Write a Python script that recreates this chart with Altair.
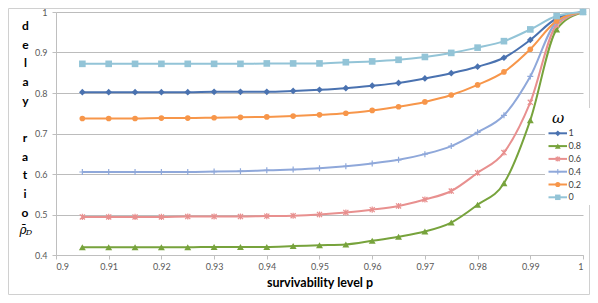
import altair as alt
import pandas as pd

# ---------------- data ----------------
p_values = [0.905, 0.91, 0.915, 0.92, 0.925, 0.93, 0.935, 0.94, 0.945, 0.95,
            0.955, 0.96, 0.965, 0.97, 0.975, 0.98, 0.985, 0.99, 0.995, 1.0]
omega_labels = ["1", "0.8", "0.6", "0.4", "0.2", "0"]

ratio_w1 = [0.802, 0.802, 0.802, 0.802, 0.802, 0.803, 0.803, 0.803, 0.805, 0.808,
            0.812, 0.818, 0.825, 0.836, 0.849, 0.865, 0.887, 0.931, 0.984, 1.0]
ratio_w08 = [0.419, 0.419, 0.419, 0.419, 0.419, 0.420, 0.420, 0.420, 0.422, 0.424,
             0.426, 0.435, 0.445, 0.458, 0.480, 0.524, 0.577, 0.733, 0.957, 1.0]
ratio_w06 = [0.494, 0.494, 0.494, 0.494, 0.495, 0.495, 0.495, 0.496, 0.497, 0.500,
             0.505, 0.512, 0.521, 0.537, 0.558, 0.603, 0.653, 0.777, 0.968, 1.0]
ratio_w04 = [0.605, 0.605, 0.605, 0.605, 0.605, 0.606, 0.607, 0.609, 0.611, 0.614,
             0.619, 0.626, 0.635, 0.649, 0.669, 0.703, 0.745, 0.841, 0.975, 1.0]
ratio_w02 = [0.737, 0.737, 0.737, 0.738, 0.738, 0.739, 0.740, 0.741, 0.743, 0.746,
             0.750, 0.757, 0.766, 0.778, 0.795, 0.820, 0.852, 0.908, 0.978, 1.0]
ratio_w0 = [0.872, 0.872, 0.872, 0.872, 0.872, 0.872, 0.872, 0.873, 0.873, 0.873,
            0.876, 0.878, 0.882, 0.889, 0.899, 0.912, 0.928, 0.957, 0.990, 1.0]

x_ticks = [0.9, 0.91, 0.92, 0.93, 0.94, 0.95, 0.96, 0.97, 0.98, 0.99, 1.0]
y_ticks = [0.4, 0.5, 0.6, 0.7, 0.8, 0.9, 1.0]

series = [ratio_w1, ratio_w08, ratio_w06, ratio_w04, ratio_w02, ratio_w0]
rows = []
for lab, vals in zip(omega_labels, series):
    for p, v in zip(p_values, vals):
        rows.append({"p": p, "ratio": v, "w": lab})
df = pd.DataFrame(rows)
legend_df = pd.DataFrame({"w": omega_labels})

# ---------------- styles ----------------
colors = ["#4A72B0", "#77A33C", "#E8908F", "#8FA8DA", "#F7964A", "#93C4D7"]
FONT = "Lato"

STAR = "M-1,-1L1,1M-1,1L1,-1M0,-1.2V1.2"
PLUS = "M-1,0H1M0,-1V1"
marker_specs = {
    "1": dict(shape="diamond", filled=True, size=45),
    "0.8": dict(shape="triangle-up", filled=True, size=48),
    "0.6": dict(shape=STAR, filled=False, size=26, strokeWidth=1.2),
    "0.4": dict(shape=PLUS, filled=False, size=36, strokeWidth=1.2),
    "0.2": dict(shape="circle", filled=True, size=32),
    "0": dict(shape="square", filled=True, size=44),
}
legend_marker_specs = {
    "1": dict(shape="diamond", filled=True, size=32),
    "0.8": dict(shape="triangle-up", filled=True, size=34),
    "0.6": dict(shape=STAR, filled=False, size=18, strokeWidth=1.1),
    "0.4": dict(shape=PLUS, filled=False, size=30, strokeWidth=1.1),
    "0.2": dict(shape="circle", filled=True, size=26),
    "0": dict(shape="square", filled=True, size=30),
}

x_enc = alt.X(
    "p:Q",
    scale=alt.Scale(domain=[0.9, 1.0], nice=False, zero=False),
    axis=alt.Axis(values=x_ticks, format="~g", title="survivability level p",
                  grid=False, tickSize=4, labelPadding=3, titlePadding=5,
                  titleFontSize=12.5, titleFontWeight="bold", titleColor="#000000"),
)
y_enc = alt.Y(
    "ratio:Q",
    scale=alt.Scale(domain=[0.4, 1.0], nice=False, zero=False),
    axis=alt.Axis(values=y_ticks, format="~g", grid=True, tickSize=4, labelPadding=5,
                  title=["d", "e", "l", "a", "y"],
                  titleAngle=0, titleX=-31, titleY=13.5, titleAlign="center",
                  titleBaseline="middle", titleFontSize=12, titleFontWeight="bold",
                  titleLineHeight=18.7, titleColor="#000000"),
)
color_scale = alt.Scale(domain=omega_labels, range=colors)

# outer frame
frame = alt.Chart(pd.DataFrame({"k": [0]})).mark_rect(
    fillOpacity=0, stroke="#d0d0d0", strokeWidth=1
).encode(x=alt.value(-47.5), x2=alt.value(533.5), y=alt.value(-3.5), y2=alt.value(282.5))

lines = alt.Chart(df).mark_line(interpolate="monotone", strokeWidth=2).encode(
    x=x_enc, y=y_enc,
    color=alt.Color("w:N", scale=color_scale, legend=None),
    detail="w:N",
)

point_layers = []
for lab in omega_labels:
    spec = marker_specs[lab]
    point_layers.append(
        alt.Chart(df).transform_filter(alt.datum.w == lab).mark_point(opacity=1, **spec).encode(
            x=x_enc, y=y_enc,
            color=alt.Color("w:N", scale=color_scale, legend=None),
        )
    )

# second word of the vertical y title, and the symbol below it
ratio_word = alt.Chart(pd.DataFrame({"t": ["r\na\nt\ni\no"]})).mark_text(
    font=FONT, fontSize=12, fontWeight="bold", color="#000000", lineBreak="\n",
    lineHeight=18.7, align="center", baseline="middle"
).encode(x=alt.value(-31), y=alt.value(126), text="t:N")
rho = alt.Chart(pd.DataFrame({"t": ["ρ̄"]})).mark_text(
    font="DejaVu Serif", fontStyle="italic", fontSize=12, color="#000000"
).encode(x=alt.value(-33), y=alt.value(218), text="t:N")
sub_d = alt.Chart(pd.DataFrame({"t": ["D"]})).mark_text(
    font="DejaVu Serif", fontStyle="italic", fontSize=8, color="#000000"
).encode(x=alt.value(-27), y=alt.value(221), text="t:N")

main = alt.layer(frame, lines, *point_layers, ratio_word, rho, sub_d)

# ---------------- legend (drawn with marks) ----------------
leg_y = alt.Y("w:N", scale=alt.Scale(type="point", domain=omega_labels,
                                      range=[121.3, 185.3], padding=0), axis=None)
leg_bg = alt.Chart(pd.DataFrame({"k": [0]})).mark_rect(fill="white", stroke=None).encode(
    x=alt.value(489), x2=alt.value(534), y=alt.value(96), y2=alt.value(193))
leg_title = alt.Chart(pd.DataFrame({"t": ["ω"]})).mark_text(
    font="DejaVu Serif", fontStyle="italic", fontSize=15, color="#000000"
).encode(x=alt.value(502), y=alt.value(105.5), text="t:N")
leg_lines = alt.Chart(legend_df).mark_rule(strokeWidth=2).encode(
    x=alt.value(492.5), x2=alt.value(511), y=leg_y,
    color=alt.Color("w:N", scale=color_scale, legend=None))
leg_points = []
for lab in omega_labels:
    spec = legend_marker_specs[lab]
    leg_points.append(
        alt.Chart(legend_df).transform_filter(alt.datum.w == lab).mark_point(opacity=1, **spec).encode(
            x=alt.value(501.8), y=leg_y,
            color=alt.Color("w:N", scale=color_scale, legend=None))
    )
leg_labels = alt.Chart(legend_df).mark_text(
    align="left", baseline="middle", font=FONT, fontSize=9, color="#404040"
).encode(x=alt.value(512.5), y=leg_y, text="w:N")

legend_block = alt.layer(leg_bg, leg_title, leg_lines, *leg_points, leg_labels)

chart = alt.layer(main, legend_block).resolve_scale(y="independent").properties(
    width=527, height=243,
    autosize=alt.AutoSizeParams(type="none"),
    padding={"left": 48, "top": 4, "right": 7, "bottom": 40},
).configure_view(stroke=None).configure_axis(
    labelFont=FONT, titleFont=FONT, labelFontSize=9, labelColor="#595959",
    domainColor="#bfbfbf", tickColor="#bfbfbf", gridColor="#bcbcbc",
)

chart.save("out.html", embed_options={"renderer": "svg", "actions": False})
